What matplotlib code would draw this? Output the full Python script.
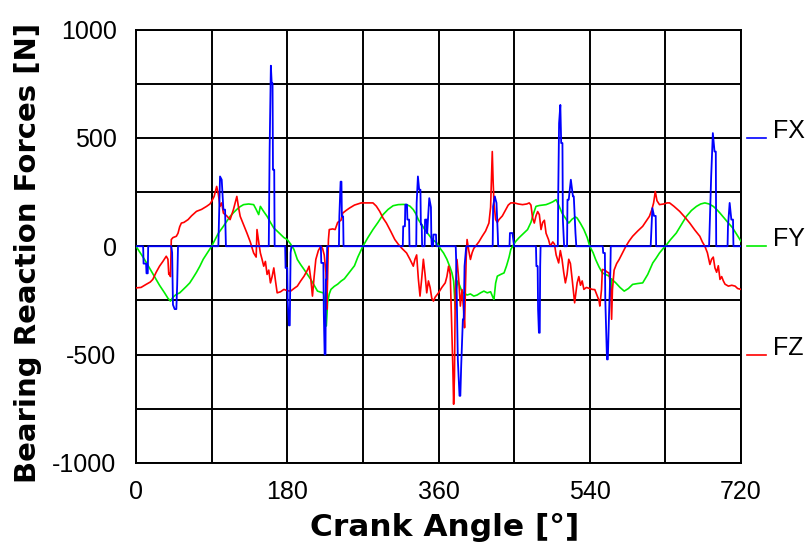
import matplotlib
matplotlib.use("Agg")
import matplotlib.pyplot as plt
import matplotlib.transforms as mtransforms
from matplotlib.ticker import MultipleLocator

plt.rcParams['axes.unicode_minus'] = False

# crank angle [deg] / force [N]
fx_angle = [0, 8.5, 9, 12, 12.5, 14, 14.5,
            42, 43, 44, 46, 48, 49, 50,
            98, 99, 100, 102, 104, 106, 107,
            158, 159, 160.5, 161.5, 162.5, 163, 164.5, 165,
            177.5, 178, 180, 180.5, 182, 183, 184, 185,
            220, 220.5, 223, 223.5, 224.5, 225.5, 226, 227, 227.5,
            241.5, 242, 243.5, 244.5, 245, 246.5, 247,
            317.5, 318, 320, 320.5, 322.5, 323, 325, 325.5,
            333.5, 334, 335.5, 337, 338.5, 339, 340, 340.5,
            343.5, 344, 346, 346.5, 349, 351, 351.5, 352,
            353.5, 354, 357, 357.5,
            380.5, 381, 383, 385, 386, 387, 389, 390, 391, 393,
            424.5, 425, 427, 429, 430.5, 431,
            444.5, 445, 448, 449, 450,
            476, 476.5, 478, 478.5, 479.5, 480.5, 481, 481.5,
            502, 502.5, 503.5, 505, 506, 507.5, 508, 509.5,
            513, 513.5, 515, 517.5, 520, 521, 523, 524,
            555.5, 556, 558, 558.5, 560.5, 561.5, 563, 564.5, 565,
            612.5, 613, 614.5, 616.5, 618.5, 619,
            682, 682.5, 684.5, 686.5, 688.5, 690, 690.5,
            704, 704.5, 706.5, 708.5, 710.5, 711, 720]
fx_value = [0, 0, -80, -80, -125, -125, 0,
            0, -30, -270, -290, -290, -180, 0,
            0, 169, 322, 307, 169, 169, 0,
            0, 437, 833, 752, 752, 353, 353, 0,
            0, -100, -100, -253, -365, -365, -30, 0,
            0, -77, -77, -307, -499, -499, -153, -153, 0,
            0, 138, 298, 298, 138, 138, 0,
            0, 92, 92, 192, 192, 123, 123, 0,
            0, 200, 322, 261, 261, 100, 100, 0,
            0, 123, 123, 60, 222, 180, 40, 0,
            0, 54, 54, 0,
            0, -61, -522, -690, -690, -552, -337, -337, -92, 0,
            0, 184, 230, 200, 60, 0,
            0, 61, 61, 30, 0,
            0, -92, -92, -291, -399, -399, -92, 0,
            0, 245, 568, 652, 476, 476, 123, 0,
            0, 215, 215, 307, 230, 230, 61, 0,
            0, -31, -31, -245, -522, -522, -307, -120, 0,
            0, 46, 176, 140, 140, 0,
            0, 60, 322, 522, 437, 437, 0,
            0, 92, 200, 123, 123, 0, 0]

fy_angle = [0, 5, 10, 16, 22, 28, 34, 38, 41, 44, 48, 52, 56, 60, 64, 68,
            72, 76, 80, 85, 90, 94, 98, 104, 108, 112, 116, 120, 124, 128,
            134, 140, 143, 146, 148, 152, 156, 160, 164, 168, 172, 176, 180,
            184, 188, 192, 196, 200, 204, 208, 212, 216, 220, 223, 225, 226.5,
            228, 230, 232, 236, 240, 244, 248, 252, 256, 260, 264, 270, 276,
            282, 288, 294, 300, 306, 312, 318, 322, 326, 330, 333, 336, 340,
            344, 348, 352, 358, 362, 366, 370, 374, 376, 378, 380, 381, 383,
            384, 386, 388, 390, 394, 398, 402, 406, 410, 414, 418, 422, 425,
            426, 428, 430, 434, 438, 441, 444, 446, 449, 452, 456, 460, 466,
            470, 473, 476, 480, 484, 488, 492, 496, 500, 503, 507, 511, 515,
            519, 523, 525, 529, 533, 537, 540, 544, 547, 551, 555, 559, 563,
            564, 565, 566, 567, 571, 576, 581, 586, 591, 597, 603, 609, 615,
            619, 623, 627, 630, 636, 643, 649, 655, 661, 667, 672, 677, 682,
            687, 691, 695, 700, 705, 710, 715, 720]
fy_value = [0, -30, -60, -100, -140, -180, -215, -240, -253, -235, -222, -215,
            -200, -185, -169, -145, -120, -92, -60, -30, 0, 30, 60, 92, 115,
            138, 155, 170, 183, 192, 195, 192, 170, 146, 184, 160, 138, 110,
            84, 70, 55, 40, 31, 10, -15, -61, -85, -107, -130, -153, -180,
            -207, -212, -215, -260, -368, -260, -220, -199, -185, -175, -161,
            -150, -130, -110, -90, -50, 0, 40, 77, 110, 146, 170, 187, 192,
            193, 192, 185, 169, 150, 123, 100, 75, 55, 35, 15, -10, -31, -60,
            -100, -123, -160, -291, -200, -160, -169, -190, -210, -215, -225,
            -220, -230, -225, -215, -207, -215, -210, -238, -245, -170, -138,
            -130, -123, -90, -50, -15, 5, 23, 40, 55, 77, 110, 150, 184, 188,
            190, 192, 198, 205, 215, 190, 153, 130, 107, 125, 135, 130, 105,
            77, 40, 0, -30, -61, -95, -123, -130, -138, -140, -230, -150, -155,
            -169, -190, -207, -195, -176, -172, -169, -130, -77, -55, -31, -12,
            0, 30, 61, 100, 138, 165, 184, 195, 200, 195, 184, 170, 153, 130,
            107, 85, 54, 23]

fz_angle = [0, 6, 12, 17, 20, 24, 28, 32, 36, 38, 39, 40, 41, 42, 44, 48, 50,
            52, 54, 57, 62, 66, 72, 78, 84, 88, 90, 93, 96, 98, 100, 102, 104,
            108, 112, 116, 120, 122, 124, 128, 132, 136, 140, 143, 144, 146,
            148, 150, 152, 154, 156, 158, 160, 162, 164, 166, 168, 172, 176,
            180, 184, 188, 192, 196, 200, 204, 206, 208, 210, 212, 214, 217,
            220, 222, 224, 226, 227, 228, 229, 230, 234, 237, 240, 244, 246,
            250, 254, 260, 268, 275, 282, 286, 290, 294, 298, 303, 308, 312,
            316, 322, 326, 330, 332, 334, 336, 338, 340, 342, 344, 346, 348,
            350, 352, 354, 356, 358, 360, 364, 368, 370, 372, 374, 376, 377,
            378, 379, 380, 382, 384, 386, 388, 390, 391, 392, 393, 394, 396,
            398, 400, 402, 404, 408, 412, 416, 420, 422, 424, 425, 426, 428,
            430, 432, 436, 440, 443, 446, 450, 455, 460, 465, 468, 470, 472,
            474, 476, 478, 480, 482, 484, 486, 488, 491, 493, 496, 498, 500,
            503, 505, 507, 509, 511, 513, 515, 517, 519, 522, 524, 525, 527,
            529, 531, 533, 536, 540, 543, 546, 549, 551, 552, 554, 555, 558,
            561, 563, 565, 566, 567, 569, 572, 575, 579, 583, 587, 591, 597,
            603, 607, 611, 614, 616, 618, 620, 623, 628, 632, 635, 640, 647,
            653, 659, 665, 671, 674, 677, 680, 683, 685, 687, 689, 691, 693,
            695, 697, 699, 701, 705, 709, 713, 716, 720]
fz_value = [-192, -190, -176, -165, -153, -120, -92, -70, -46, -60, -130, -123,
            -140, 31, 40, 46, 60, 90, 107, 110, 123, 140, 161, 170, 184, 195,
            207, 230, 276, 240, 184, 200, 153, 140, 123, 170, 230, 180, 138,
            100, 61, 20, -31, -50, 77, 20, -31, -60, -92, -70, -130, -110,
            -169, -140, -100, -160, -215, -210, -199, -205, -207, -195, -184,
            -160, -138, -110, -92, -150, -230, -140, -61, -20, 0, -10, -40,
            -120, -291, -150, 30, 77, 80, 77, 110, 120, 153, 165, 176, 190,
            200, 200, 200, 185, 161, 130, 107, 70, 31, 10, -8, -31, -60, -92,
            -60, -40, -150, -230, -150, -60, -130, -215, -160, -190, -240,
            -253, -235, -225, -215, -190, -169, -140, -92, -130, -414, -550,
            -729, -600, -200, -61, -150, -276, -200, -300, -376, -200, -50, 31,
            -20, -61, -30, -10, 0, 20, 46, 70, 107, 180, 437, 300, 200, 123,
            110, 123, 140, 169, 190, 200, 200, 195, 192, 195, 200, 190, 130,
            107, 140, 160, 146, 77, 110, 120, 60, 30, 0, 20, 10, -40, -77,
            -20, -60, -120, -169, -130, -60, -80, -150, -261, -200, -169, -140,
            -180, -160, -199, -190, -195, -199, -200, -230, -250, -276, -200,
            -107, -110, -120, -123, -200, -337, -200, -110, -80, -61, -30, 0,
            25, 46, 70, 92, 115, 138, 170, 200, 253, 210, 192, 195, 200, 200,
            185, 161, 135, 107, 75, 46, 20, 0, -30, -84, -60, -50, -100, -120,
            -90, -153, -140, -160, -175, -184, -180, -184, -195, -199]

series_names = ["FX", "FY", "FZ"]
series_colors = ["#0000ff", "#00ee00", "#ff0000"]
legend_levels = [500, 0, -500]

fig = plt.figure(figsize=(8.11, 5.5), dpi=100)
ax = fig.add_axes([136 / 811, 1 - 463 / 550, 605 / 811, 433.5 / 550])

ax.plot(fy_angle, fy_value, color=series_colors[1], lw=1.2, zorder=3)
ax.plot(fz_angle, fz_value, color=series_colors[2], lw=1.2, zorder=4)
ax.plot(fx_angle, fx_value, color=series_colors[0], lw=1.3, zorder=5)

ax.set_xlim(0, 720)
ax.set_ylim(-1000, 1000)
ax.xaxis.set_major_locator(MultipleLocator(180))
ax.xaxis.set_minor_locator(MultipleLocator(90))
ax.yaxis.set_major_locator(MultipleLocator(500))
ax.yaxis.set_minor_locator(MultipleLocator(250))
ax.grid(True, which="both", color="black", lw=1.4, zorder=1)
ax.set_axisbelow(True)
for s in ax.spines.values():
    s.set_linewidth(1.4)

tick_font = {"family": "Liberation Sans", "size": 18}
ax.tick_params(axis="both", which="both", length=0)
ax.tick_params(axis="x", pad=12)
ax.tick_params(axis="y", pad=14)
for lab in ax.get_xticklabels() + ax.get_yticklabels():
    lab.set_fontfamily(tick_font["family"])
    lab.set_fontsize(tick_font["size"])

fig.text(445 / 811, 1 - 527 / 550, "Crank Angle [°]", ha="center", va="center",
         fontsize=22.5, fontweight="bold", family="DejaVu Sans")
fig.text(28 / 811, 1 - 253 / 550, "Bearing Reaction Forces [N]", ha="center",
         va="center", rotation=90, fontsize=21, fontweight="bold",
         family="DejaVu Sans")

# legend at the right side, one entry per level
trans = mtransforms.blended_transform_factory(ax.transAxes, ax.transData)
for name, col, lev in zip(series_names, series_colors, legend_levels):
    ax.plot([1.010, 1.041], [lev, lev], color=col, lw=1.2, transform=trans,
            clip_on=False)
    ax.text(1.053, lev, name, transform=trans, ha="left", va="baseline",
            fontsize=18, family="Liberation Sans")

fig.savefig("out.png", dpi=100)
